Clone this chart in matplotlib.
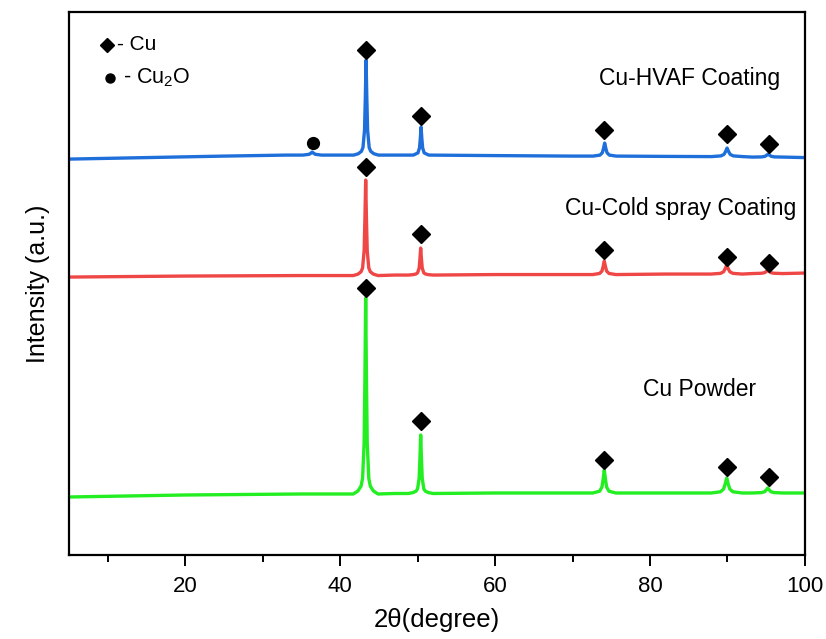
import matplotlib
matplotlib.use("Agg")
import matplotlib.pyplot as plt

plt.rcParams['font.family'] = ['Liberation Sans', 'DejaVu Sans']

# ---- data: 2theta (degree) and intensity (a.u., curves stacked with offsets) ----
hvaf_x = [5, 15, 25, 33, 35.2, 36.0, 36.2, 36.4, 36.6, 36.8, 37.6,
          41.75, 42.35, 42.75, 42.95, 43.15, 43.25, 43.35, 43.45, 43.55, 43.75, 43.95, 44.35, 44.95,
          47, 49.45, 50.05, 50.25, 50.35, 50.45, 50.55, 50.65, 50.85, 51.45,
          60, 70, 72.65, 73.55, 73.85, 74.0, 74.15, 74.3, 74.45, 74.75, 75.65,
          82, 87.95, 89.15, 89.55, 89.75, 89.95, 90.15, 90.35, 90.75, 91.95,
          93.25, 94.45, 94.85, 95.05, 95.25, 95.45, 95.65, 96.05, 97.25, 100]
hvaf_y = [396, 397.5, 399, 400, 400, 400.8, 401.8, 403, 401.8, 400.8, 400,
          400, 401.4, 403.8, 407.6, 424.7, 456, 495, 456, 424.7, 407.6, 403.8, 401.4, 400,
          400, 400, 402.2, 407.3, 416.5, 428, 416.5, 407.3, 402.2, 400,
          399.5, 399, 399, 400, 402.4, 406.7, 412, 406.7, 402.4, 400, 399,
          398.7, 398.5, 399.2, 400.7, 403.5, 407, 403.5, 400.7, 399.2, 398.5,
          398, 398.2, 398.8, 399.8, 401, 399.8, 398.8, 398.2, 398, 397.5]

cold_x = [5, 20, 35, 41.7, 42.3, 42.7, 42.9, 43.1, 43.2, 43.3, 43.4, 43.5, 43.7, 43.9, 44.3, 44.9,
          47, 48.8, 49.4, 49.8, 50.0, 50.2, 50.3, 50.4, 50.5, 50.6, 50.8, 51.0, 51.4, 52.0,
          60, 70, 72.6, 73.5, 73.8, 73.95, 74.1, 74.25, 74.4, 74.7, 75.6,
          82, 87.9, 89.1, 89.5, 89.7, 89.9, 90.1, 90.3, 90.7, 91.9,
          93.2, 94.4, 94.8, 95.0, 95.2, 95.4, 95.6, 96.0, 97.2, 100]
cold_y = [278, 279, 279.5, 279.5, 280.9, 283.3, 287.1, 304.3, 335.8, 375, 335.8, 304.3, 287.1, 283.3, 280.9, 279.5,
          280, 280, 280.4, 281.1, 282.2, 287, 295.9, 307, 295.9, 287, 282.2, 281.1, 280.4, 280,
          280.5, 280.5, 280.5, 281.6, 284, 288.5, 294, 288.5, 284, 281.6, 280.5,
          281, 281, 281.7, 283.3, 286.3, 290, 286.3, 283.3, 281.7, 281,
          281.5, 281.8, 282.4, 283.6, 285, 283.6, 282.4, 281.8, 281.5, 282]

powder_x = [5, 20, 35, 41.7, 42.3, 42.7, 42.9, 43.1, 43.2, 43.3, 43.4, 43.5, 43.7, 43.9, 44.3, 44.9,
            47, 48.8, 49.4, 49.8, 50.0, 50.2, 50.3, 50.4, 50.5, 50.6, 50.8, 51.0, 51.4, 52.0,
            60, 70, 72.6, 73.5, 73.8, 73.95, 74.1, 74.25, 74.4, 74.7, 75.6,
            82, 87.9, 89.1, 89.5, 89.7, 89.9, 90.1, 90.3, 90.7, 91.9,
            93.2, 94.4, 94.8, 95.0, 95.2, 95.4, 95.6, 96.0, 97.2, 100]
powder_y = [58, 60, 61, 61, 64, 68.8, 76.7, 112, 176.6, 257, 176.6, 112, 76.7, 68.8, 64, 61,
            61.5, 61.5, 62.4, 63.8, 66.2, 76.7, 96, 120, 96, 76.7, 66.2, 63.8, 62.4, 61.5,
            62, 62, 62, 63.8, 68, 75.6, 85, 75.6, 68, 63.8, 62,
            62, 62, 63.2, 65.9, 70.9, 77, 70.9, 65.9, 63.2, 62,
            62, 62.4, 63.3, 65, 67, 65, 63.3, 62.4, 62, 62]

cu_peak_x = [43.3, 50.4, 74.1, 89.9, 95.3]
hvaf_cu_marks = [505, 439, 425, 421, 411]
cold_cu_marks = [388, 321, 305, 298, 292]
powder_cu_marks = [267, 134, 95, 88, 78]
cu2o_x = [36.5]
hvaf_cu2o_marks = [412]

series_labels = ['Cu-HVAF Coating', 'Cu-Cold spray Coating', 'Cu Powder']
colors = ['#1F6FDB', '#EF4646', '#22EE22']

fig = plt.figure(figsize=(8.26, 6.39), dpi=100)
ax = fig.add_axes([0.0835, 0.1315, 0.891, 0.8495])

ax.plot(hvaf_x, hvaf_y, color=colors[0], lw=2.4)
ax.plot(cold_x, cold_y, color=colors[1], lw=2.4)
ax.plot(powder_x, powder_y, color=colors[2], lw=2.4)

for ys in (hvaf_cu_marks, cold_cu_marks, powder_cu_marks):
    ax.plot(cu_peak_x, ys, 'D', color='black', ms=9, ls='none')
ax.plot(cu2o_x, hvaf_cu2o_marks, 'o', color='black', ms=8.5, ls='none')

# legend-like annotation
ax.plot([9.9], [510.5], 'D', color='black', ms=7, ls='none')
ax.text(11.2, 510.5, '- Cu', fontsize=15, va='center', ha='left')
ax.plot([10.3], [477], 'o', color='black', ms=6.5, ls='none')
ax.text(12.0, 477, '- Cu$_\\mathregular{2}$O', fontsize=15.5, va='center', ha='left')

ax.text(85.1, 477, series_labels[0], fontsize=16.5, ha='center', va='center')
ax.text(84.0, 347, series_labels[1], fontsize=16.5, ha='center', va='center')
ax.text(86.4, 166, series_labels[2], fontsize=16.5, ha='center', va='center')

ax.set_xlim(5, 100)
ax.set_ylim(0, 543)
ax.set_xticks([20, 40, 60, 80, 100])
ax.set_xticks([10, 30, 50, 70, 90], minor=True)
ax.set_yticks([])
ax.tick_params(axis='x', which='major', direction='out', length=8, width=1.4, labelsize=16, pad=7)
ax.tick_params(axis='x', which='minor', direction='out', length=5, width=1.4)
for s in ax.spines.values():
    s.set_linewidth(1.6)

ax.set_xlabel('2\u03b8(degree)', fontsize=18.5, labelpad=8)
ax.set_ylabel('Intensity (a.u.)', fontsize=18, labelpad=14)

fig.savefig('out.png', dpi=100)
